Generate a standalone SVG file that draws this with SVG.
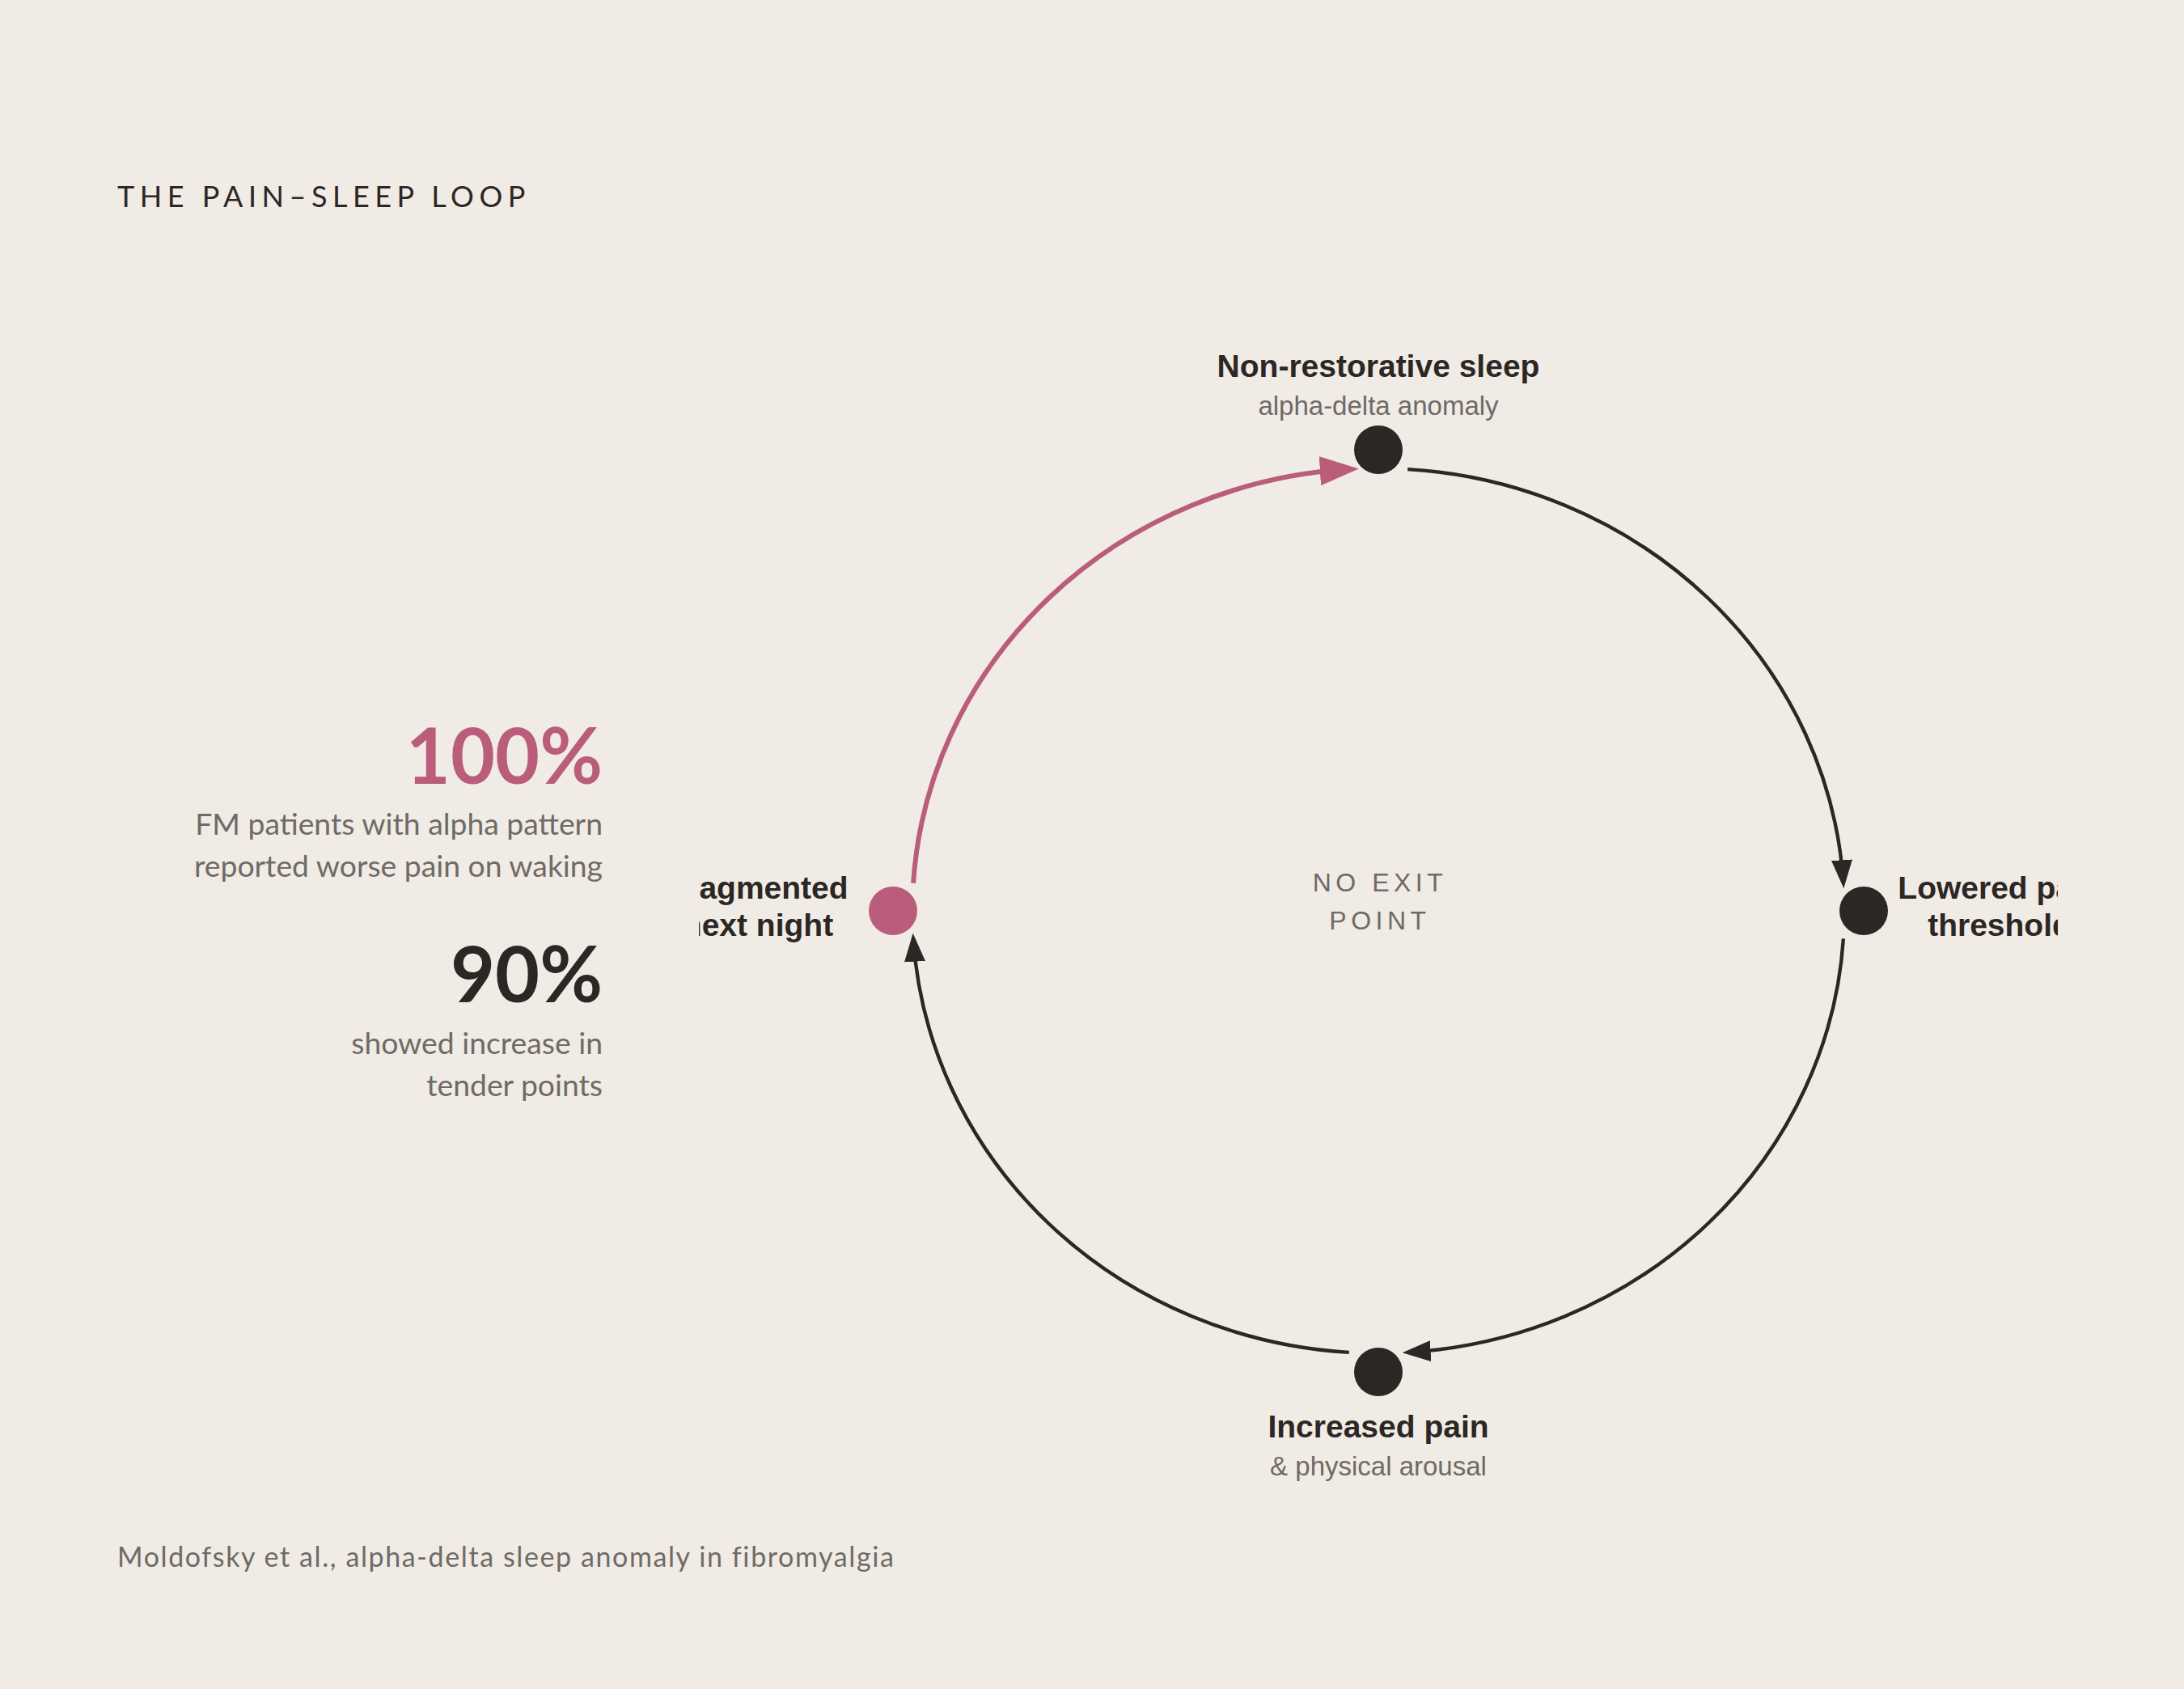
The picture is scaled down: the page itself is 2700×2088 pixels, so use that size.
<svg xmlns="http://www.w3.org/2000/svg" width="2700" height="2088" viewBox="0 0 2700 2088">
  <style>
    .bg { fill: #f0ebe5; }
    .title { font-family: Lato, "Liberation Sans", sans-serif; font-size: 36px; letter-spacing: 6.5px; fill: #2c2724; }
    .big { font-family: Lato, "Liberation Sans", sans-serif; font-size: 95px; font-weight: 700; text-anchor: end; }
    .stat { font-family: Lato, "Liberation Sans", sans-serif; font-size: 37.3px; fill: #6f6a66; text-anchor: end; }
    .foot { font-family: Lato, "Liberation Sans", sans-serif; font-size: 34px; letter-spacing: 1.6px; fill: #6f6a66; }
    .lbl { font-family: "Liberation Sans", Arial, sans-serif; font-size: 39px; font-weight: 700; fill: #2c2724; text-anchor: middle; }
    .sub { font-family: "Liberation Sans", Arial, sans-serif; font-size: 33px; fill: #6f6a66; text-anchor: middle; }
    .center { font-family: "Liberation Sans", Arial, sans-serif; font-size: 32px; letter-spacing: 5.5px; fill: #6f6a66; text-anchor: middle; }
    .dark { fill: #2c2724; }
    .pink { fill: #b95d7a; }
    .arcB { fill: none; stroke: #2c2724; stroke-width: 4.4; marker-end: url(#arrowB); }
    .arcP { fill: none; stroke: #b95d7a; stroke-width: 6; marker-end: url(#arrowP); }
  </style>
  <defs>
    <marker id="arrowB" markerUnits="userSpaceOnUse" markerWidth="35" markerHeight="26" refX="28.5" refY="13" orient="auto" viewBox="0 0 35 26">
      <path d="M0,0 L35,13 L0,26 Z" fill="#2c2724"/>
    </marker>
    <marker id="arrowP" markerUnits="userSpaceOnUse" markerWidth="48" markerHeight="36" refX="36" refY="18" orient="auto" viewBox="0 0 48 36">
      <path d="M0,0 L48,18 L0,36 Z" fill="#b95d7a"/>
    </marker>
    <clipPath id="stage">
      <rect x="864" y="0" width="1680" height="2088"/>
    </clipPath>
  </defs>

  <rect class="bg" x="0" y="0" width="2700" height="2088"/>

  <text class="title" x="145" y="256">THE PAIN–SLEEP LOOP</text>

  <g id="stats">
    <text class="big pink" x="745" y="969">100%</text>
    <text class="stat" x="745" y="1032">FM patients with alpha pattern</text>
    <text class="stat" x="745" y="1084">reported worse pain on waking</text>
    <text class="big dark" x="745" y="1239">90%</text>
    <text class="stat" x="745" y="1303">showed increase in</text>
    <text class="stat" x="745" y="1355">tender points</text>
  </g>

  <g id="loop" clip-path="url(#stage)">
    <g id="connectors">
      <path class="arcP" d="M1129.1,1091.7 A576,547 0 0 1 1667.8,580.1"/>
      <path class="arcB" d="M1740.2,580.1 A576,547 0 0 1 2278.9,1091.7"/>
      <path class="arcB" d="M2278.9,1160.3 A576,547 0 0 1 1740.2,1671.9"/>
      <path class="arcB" d="M1667.8,1671.9 A576,547 0 0 1 1129.1,1160.3"/>
    </g>

    <g id="node-sleep">
      <circle class="dark" cx="1704" cy="556" r="30"/>
      <text class="lbl" x="1704" y="466">Non-restorative sleep</text>
      <text class="sub" x="1704" y="513">alpha-delta anomaly</text>
    </g>

    <g id="node-threshold">
      <circle class="dark" cx="2304" cy="1126" r="30"/>
      <text class="lbl" x="2472" y="1111">Lowered pain</text>
      <text class="lbl" x="2472" y="1157">threshold</text>
    </g>

    <g id="node-pain">
      <circle class="dark" cx="1704" cy="1696" r="30"/>
      <text class="lbl" x="1704" y="1777">Increased pain</text>
      <text class="sub" x="1704" y="1824">&amp; physical arousal</text>
    </g>

    <g id="node-fragmented">
      <circle class="pink" cx="1104" cy="1126" r="30"/>
      <text class="lbl" x="937" y="1111">Fragmented</text>
      <text class="lbl" x="937" y="1157">next night</text>
    </g>

    <g id="center-label">
      <text class="center" x="1706" y="1102">NO EXIT</text>
      <text class="center" x="1706" y="1149">POINT</text>
    </g>
  </g>

  <text class="foot" x="145" y="1937">Moldofsky et al., alpha-delta sleep anomaly in fibromyalgia</text>
</svg>
